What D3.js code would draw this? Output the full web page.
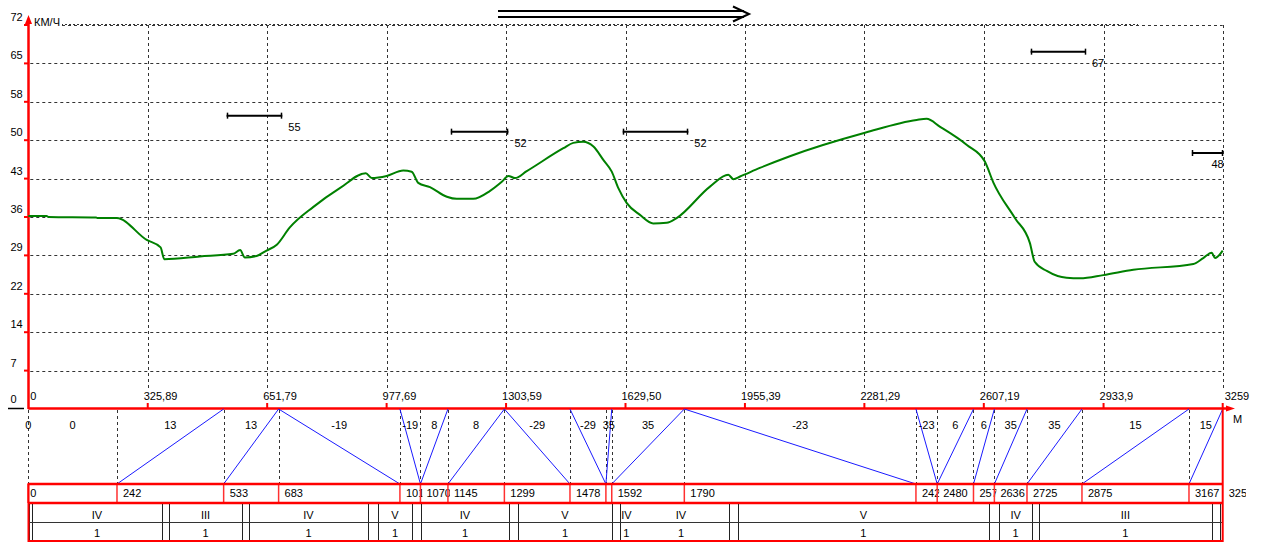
<!DOCTYPE html>
<html>
<head>
<meta charset="utf-8">
<script src="https://cdn.jsdelivr.net/npm/d3@7"></script>
<style>
  html, body { margin: 0; padding: 0; background: #fff; }
  svg { display: block; font-family: "Liberation Sans", Arial, sans-serif; font-size: 11px; }
</style>
</head>
<body>
<svg id="chart" width="1261" height="542"></svg>
<script>
// Speed curve: distance along the route (m) and speed (km/h)
const distance = [0, 50, 55, 185, 190, 241, 323, 361, 371, 468, 559, 578, 591, 623, 650, 678, 713, 778, 850, 921,
  937, 978, 1023, 1046, 1064, 1096, 1142, 1169, 1214, 1260, 1292, 1310, 1328, 1360, 1460, 1487, 1514, 1542, 1569, 1592,
  1610, 1633, 1669, 1705, 1742, 1769, 1860, 1910, 1924, 1942, 1996, 2078, 2283, 2424, 2451, 2488, 2561, 2610, 2633, 2692,
  2733, 2746, 2779, 2833, 2870, 2933, 3015, 3179, 3206, 3229, 3238, 3259];
const speed = [36.2, 36.2, 36.0, 35.9, 35.8, 35.8, 31.7, 30.3, 28.1, 28.6, 29.1, 29.8, 28.4, 28.7, 29.7, 30.8, 34.0, 37.9, 41.4, 44.2,
  43.3, 43.7, 44.7, 44.5, 42.4, 41.6, 39.8, 39.4, 39.4, 40.9, 42.6, 43.7, 43.3, 44.6, 48.9, 49.9, 50.1, 49.2, 46.7, 44.5,
  41.4, 38.6, 36.4, 34.8, 34.9, 35.8, 41.7, 43.9, 43.1, 43.6, 45.2, 47.4, 51.8, 54.2, 54.4, 52.9, 49.5, 46.4, 42.5, 35.8,
  31.1, 27.6, 25.9, 24.6, 24.5, 25.1, 26.1, 27.2, 28.3, 29.3, 28.3, 29.7];

// Speed limit segments
const limitFrom = [541, 1153, 1622, 2735, 3175];
const limitTo = [693, 1310, 1801, 2886, 3259];
const limitValue = [55, 52, 52, 67, 48];

// Axis tick labels
const xTickLabels = ["0", "325,89", "651,79", "977,69", "1303,59", "1629,50", "1955,39", "2281,29", "2607,19", "2933,9", "3259"];
const yTickLabels = ["0", "7", "14", "22", "29", "36", "43", "50", "58", "65", "72"];
const yStep = 7.2;
const routeLength = 3259;

// Track profile elements: start (m) and grade (‰)
const elementStart = [0, 0, 242, 533, 683, 1014, 1070, 1145, 1299, 1478, 1576, 1592, 1790, 2422, 2480, 2579, 2636, 2725, 2875, 3167];
const elementGrade = [0, 0, 13, 13, -19, -19, 8, 8, -29, -29, 35, 35, -23, -23, 6, 6, 35, 35, 15, 15];

// Track sections table
const sectionStart = [10, 384, 602, 954, 1071, 1336, 1614, 1650, 1936, 2649, 2757, 3252];
const sectionEnd = [365, 583, 927, 1047, 1312, 1593, 1650, 1912, 2621, 2739, 3230, 3259];
const sectionClass = ["IV", "III", "IV", "V", "IV", "V", "IV", "IV", "V", "IV", "III", ""];
const sectionCount = ["1", "1", "1", "1", "1", "1", "1", "1", "1", "1", "1", ""];

const RED = "#ff0000";
const svg = d3.select("#chart");

const x = d3.scaleLinear().domain([0, routeLength]).range([28.3, 1222.7]);
const y = d3.scaleLinear().domain([0, 72]).range([409, 25]);
const px = v => Math.round(v) + 0.5;

const yTickValues = yTickLabels.map((_, i) => i * yStep);
const xTickValues = xTickLabels.map(s => +s.replace(",", "."));

// ---------- speed plot ----------
const grid = svg.append("g").attr("stroke", "#333").attr("stroke-width", 1).attr("stroke-dasharray", "3,3");
grid.selectAll("line.h").data(yTickValues.slice(1)).join("line")
  .attr("class", "h")
  .attr("x1", (d, i) => i === yTickValues.length - 2 ? 62 : x(0) + 2)
  .attr("x2", x(routeLength))
  .attr("y1", d => px(y(d))).attr("y2", d => px(y(d)));
grid.selectAll("line.v").data(xTickValues.slice(1)).join("line")
  .attr("class", "v")
  .attr("x1", d => px(x(d))).attr("x2", d => px(x(d)))
  .attr("y1", y(72)).attr("y2", 388);

// ragged top border line
svg.append("line")
  .attr("x1", 62).attr("x2", 1138).attr("y1", 24.5).attr("y2", 24.5)
  .attr("stroke", "#333").attr("stroke-width", 1)
  .attr("stroke-dasharray", "2,2").attr("stroke-dashoffset", 1);

// direction-of-travel arrow
const dir = svg.append("g").attr("stroke", "#000").attr("stroke-width", 2).attr("fill", "none");
dir.append("line").attr("x1", 498).attr("x2", 744).attr("y1", 11).attr("y2", 11);
dir.append("line").attr("x1", 498).attr("x2", 744).attr("y1", 17).attr("y2", 17);
dir.append("polyline").attr("points", "733,6.5 749,14 733,21.5");

// y axis
svg.append("line").attr("x1", 28.5).attr("x2", 28.5).attr("y1", 22).attr("y2", 409)
  .attr("stroke", RED).attr("stroke-width", 2.5);
svg.append("polygon").attr("points", "28.5,15 25,24 32,24").attr("fill", RED);
svg.append("g").selectAll("line").data(yTickValues.slice(1)).join("line")
  .attr("x1", 24).attr("x2", 28.5)
  .attr("y1", d => y(d)).attr("y2", d => y(d))
  .attr("stroke", RED).attr("stroke-width", 2);
svg.append("g").selectAll("text").data(yTickLabels).join("text")
  .attr("x", 10.5).attr("y", (d, i) => y(yTickValues[i]) - (i === 0 ? 6 : 4))
  .text(d => d);
svg.append("line").attr("x1", 8).attr("x2", 24).attr("y1", 408.5).attr("y2", 408.5)
  .attr("stroke", "#000").attr("stroke-width", 1.5);
svg.append("text").attr("x", 34).attr("y", 26).text("КМ/Ч");

// speed limits
const limits = limitValue.map((v, i) => ({ from: limitFrom[i], to: limitTo[i], v }));
const lim = svg.append("g");
lim.selectAll("line.seg").data(limits).join("line").attr("class", "seg")
  .attr("x1", d => x(d.from)).attr("x2", d => x(d.to))
  .attr("y1", d => y(d.v)).attr("y2", d => y(d.v))
  .attr("stroke", "#000").attr("stroke-width", 2);
lim.selectAll("line.capL").data(limits).join("line").attr("class", "capL")
  .attr("x1", d => px(x(d.from))).attr("x2", d => px(x(d.from)))
  .attr("y1", d => y(d.v) - 3).attr("y2", d => y(d.v) + 3)
  .attr("stroke", "#000").attr("stroke-width", 1.5);
lim.selectAll("line.capR").data(limits).join("line").attr("class", "capR")
  .attr("x1", d => px(x(d.to)) - 1).attr("x2", d => px(x(d.to)) - 1)
  .attr("y1", d => y(d.v) - 3).attr("y2", d => y(d.v) + 3)
  .attr("stroke", "#000").attr("stroke-width", 1.5);
lim.selectAll("text").data(limits).join("text")
  .attr("x", d => x(d.to) + 20 > x(routeLength) ? x(d.to) + 1 : x(d.to) + 6)
  .attr("text-anchor", d => x(d.to) + 20 > x(routeLength) ? "end" : "start")
  .attr("y", d => y(d.v) + 15)
  .text(d => d.v);

// speed curve
const curve = distance.map((d, i) => [d, speed[i]]);
svg.append("path").datum(curve)
  .attr("fill", "none").attr("stroke", "#008000").attr("stroke-width", 2)
  .attr("stroke-linejoin", "round")
  .attr("d", d3.line().x(d => x(d[0])).y(d => y(d[1])).curve(d3.curveMonotoneX));

// x axis
svg.append("line").attr("x1", x(0)).attr("x2", 1230).attr("y1", 408.5).attr("y2", 408.5)
  .attr("stroke", RED).attr("stroke-width", 2.5);
svg.append("polygon").attr("points", "1226,405.5 1235,408.5 1226,411.5").attr("fill", RED);
svg.append("g").selectAll("line").data(xTickValues.slice(1)).join("line")
  .attr("x1", d => x(d)).attr("x2", d => x(d))
  .attr("y1", 403).attr("y2", 409)
  .attr("stroke", RED).attr("stroke-width", 2);
svg.append("g").selectAll("text").data(xTickLabels).join("text")
  .attr("x", (d, i) => x(xTickValues[i]) + (i === 0 || i === xTickLabels.length - 1 ? 2 : -4))
  .attr("y", 400)
  .text(d => d);
svg.append("text").attr("x", 1233).attr("y", 423).text("М");

// ---------- track profile ----------
const elements = elementStart.map((s, i) => ({
  start: s,
  end: i < elementStart.length - 1 ? elementStart[i + 1] : routeLength,
  grade: elementGrade[i]
}));
const bandTop = 409, bandBot = 484;

const prof = svg.append("g");
prof.selectAll("line.b").data(elements).join("line").attr("class", "b")
  .attr("x1", d => px(x(d.start))).attr("x2", d => px(x(d.start)))
  .attr("y1", bandTop + 1).attr("y2", bandBot)
  .attr("stroke", "#333").attr("stroke-dasharray", "3,3");
prof.selectAll("line.g").data(elements.filter(d => d.grade !== 0)).join("line").attr("class", "g")
  .attr("x1", d => x(d.start)).attr("x2", d => x(d.end))
  .attr("y1", d => d.grade > 0 ? bandBot : bandTop)
  .attr("y2", d => d.grade > 0 ? bandTop : bandBot)
  .attr("stroke", "#1a1aff").attr("stroke-width", 1);
prof.selectAll("text").data(elements).join("text")
  .attr("x", d => (x(d.start) + x(d.end)) / 2)
  .attr("y", 429).attr("text-anchor", "middle")
  .text(d => d.grade);

// kilometre-post row: each start value written inside its own box, cut at the box edge
const kmRow = svg.append("g");
const defs = svg.append("defs");
const kmMarks = elements.map(d => ({ at: d.start, end: d.end }))
  .concat([{ at: routeLength, end: routeLength + 58 }]);
kmMarks.forEach((d, i) => {
  d.x0 = x(d.at);
  d.x1 = x(d.end) + 2;
  d.tx = d.x0 + (d.at === 0 ? 2 : 6);
  defs.append("clipPath").attr("id", "km" + i).append("rect")
    .attr("x", d.x0).attr("y", 484).attr("width", Math.max(0, x(d.end) - d.x0 > 0 ? d.x1 - d.x0 : 0)).attr("height", 19);
});
kmRow.selectAll("text").data(kmMarks).join("text")
  .attr("clip-path", (d, i) => `url(#km${i})`)
  .attr("x", d => d.tx)
  .attr("y", 497)
  .each(function (d) {
    // keep only the characters that begin inside the box
    const full = String(d.at);
    const node = d3.select(this);
    let shown = "";
    for (let k = 1; k <= full.length; k++) {
      node.text(full.slice(0, k - 1));
      const startX = d.tx + (k > 1 ? this.getComputedTextLength() : 0);
      if (startX < d.x1 - 2) shown = full.slice(0, k); else break;
    }
    node.text(shown);
  });
kmRow.selectAll("line").data(elements).join("line")
  .attr("x1", d => x(d.start)).attr("x2", d => x(d.start))
  .attr("y1", 484).attr("y2", 503)
  .attr("stroke", "#ff3030").attr("stroke-width", 1.5);
svg.append("line").attr("x1", x(0)).attr("x2", x(routeLength)).attr("y1", 484).attr("y2", 484)
  .attr("stroke", RED).attr("stroke-width", 2.5);
svg.append("line").attr("x1", x(0)).attr("x2", x(routeLength)).attr("y1", 503).attr("y2", 503)
  .attr("stroke", RED).attr("stroke-width", 2.5);

// sections table
const sections = sectionStart.map((s, i) => ({
  start: s, end: sectionEnd[i], cls: sectionClass[i], n: sectionCount[i]
}));
const edges = [0];
sections.forEach(d => {
  const abutsPrev = sections.some(o => o !== d && o.end === d.start);
  const abutsNext = sections.some(o => o !== d && o.start === d.end);
  if (!abutsPrev) edges.push(d.start);
  if (!abutsNext && d.end < routeLength) edges.push(d.end);
});
const table = svg.append("g");
table.selectAll("line").data(edges).join("line")
  .attr("x1", d => px(x(d)) + (d === 0 ? 1 : 0)).attr("x2", d => px(x(d)) + (d === 0 ? 1 : 0))
  .attr("y1", 504).attr("y2", 541)
  .attr("stroke", "#222").attr("stroke-width", 1);
svg.append("line").attr("x1", x(0)).attr("x2", x(routeLength)).attr("y1", 522.5).attr("y2", 522.5)
  .attr("stroke", "#333").attr("stroke-width", 1);
table.selectAll("text.c").data(sections).join("text").attr("class", "c")
  .attr("x", d => (x(d.start) + x(d.end)) / 2).attr("y", 519)
  .attr("text-anchor", "middle").text(d => d.cls);
table.selectAll("text.n").data(sections).join("text").attr("class", "n")
  .attr("x", d => (x(d.start) + x(d.end)) / 2).attr("y", 536.5)
  .attr("text-anchor", "middle").text(d => d.n);
svg.append("line").attr("x1", x(0)).attr("x2", x(routeLength)).attr("y1", 541).attr("y2", 541)
  .attr("stroke", RED).attr("stroke-width", 2);

// frame edges of the lower bands
svg.append("line").attr("x1", 28.5).attr("x2", 28.5).attr("y1", 483).attr("y2", 542)
  .attr("stroke", RED).attr("stroke-width", 2);
svg.append("line").attr("x1", x(routeLength)).attr("x2", x(routeLength)).attr("y1", 408).attr("y2", 542)
  .attr("stroke", RED).attr("stroke-width", 2);
</script>
</body>
</html>
